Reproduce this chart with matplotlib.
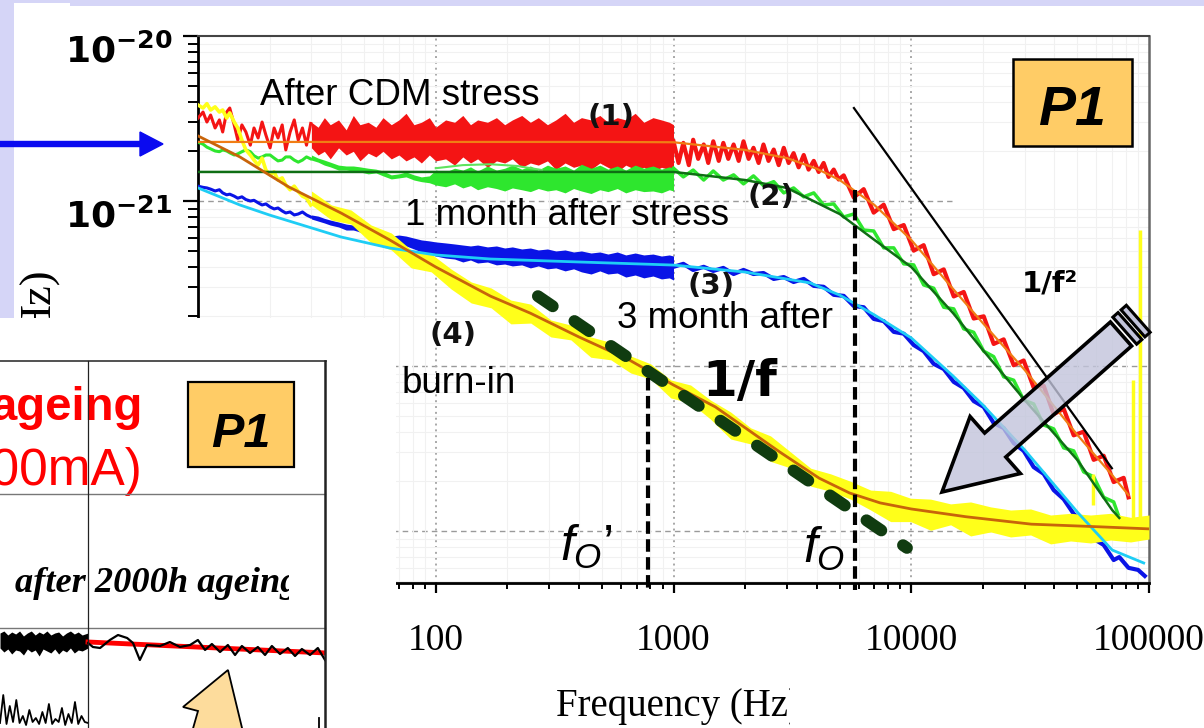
import numpy as np
import matplotlib
matplotlib.use("Agg")
import matplotlib.pyplot as plt
from matplotlib.patches import Rectangle, Polygon, FancyArrow
from matplotlib.lines import Line2D
from matplotlib.transforms import Affine2D, Bbox, TransformedBbox, ScaledTranslation
from matplotlib.ticker import NullFormatter

plt.rcParams["font.family"] = ["Liberation Sans", "DejaVu Sans"]
plt.rcParams["mathtext.fontset"] = "custom"
plt.rcParams["mathtext.rm"] = "DejaVu Sans"
plt.rcParams["mathtext.bf"] = "DejaVu Sans:bold"
plt.rcParams["mathtext.it"] = "Liberation Sans:italic"

W, H = 1204, 728
U = 1e-21  # PSD values below are in units of 1e-21 A^2/Hz

# ---------------- data ----------------
f_low = [10, 10.5, 10.9, 11.3, 11.8, 12.3, 12.7, 13.2, 13.6, 14.2, 14.7, 15.3, 15.9, 16.6,
         17.2, 17.9, 18.6, 19.3, 20.1, 20.9, 21.7, 22.6, 23.4, 24.4, 25.4, 26.4, 27.5, 28.6, 29.8]
red_low = [3.18, 3.46, 3.01, 3.32, 2.77, 3.10, 2.62, 3.46, 3.66, 2.89, 2.34, 2.89, 2.62, 2.18,
           2.77, 2.41, 3.01, 2.51, 2.10, 2.77, 2.41, 2.89, 2.04, 2.62, 3.10, 2.34, 2.77, 2.18, 2.95]
green_low = [2.27, 2.21, 2.12, 2.07, 2.01, 1.99, 2.04, 2.01, 1.96, 1.90, 1.93, 1.99, 2.04, 1.99,
             1.88, 1.82, 1.85, 1.90, 1.90, 1.82, 1.75, 1.77, 1.85, 1.85, 1.77, 1.72, 1.77, 1.85, 1.80]
blue_low = [1.23, 1.21, 1.20, 1.18, 1.15, 1.17, 1.12, 1.09, 1.10, 1.07, 1.04, 1.06, 1.02, 1.00,
            1.01, 0.975, 0.946, 0.96, 0.92, 0.895, 0.907, 0.87, 0.846, 0.858, 0.823, 0.834, 0.858, 0.823, 0.80]
yellow_low = [3.82, 3.66, 3.89, 3.56, 3.72, 3.46, 3.56, 3.18, 3.42, 3.01, 2.77, 2.34, 2.04, 1.90,
              1.77, 1.65, 1.82, 1.54, 1.44, 1.50, 1.34, 1.38, 1.25, 1.17, 1.23, 1.14, 1.07, 1.04, 0.946]

f_band = [30, 32, 34, 36, 39, 42, 45, 48, 52, 56, 60, 65, 70, 75, 81, 87, 94, 100, 110, 120,
          130, 140, 150, 165, 180, 195, 210, 230, 250, 270, 295, 320, 350, 380, 410, 450, 490,
          530, 580, 630, 690, 750, 820, 890, 960, 1000]
red_band_hi = [3.0, 2.8, 3.2, 2.9, 3.1, 2.7, 3.3, 2.9, 3.0, 2.8, 3.2, 2.9, 3.1, 3.4, 2.9, 3.0,
               3.2, 2.8, 3.1, 3.0, 3.3, 2.9, 3.1, 3.0, 3.2, 2.9, 3.1, 3.3, 3.0, 3.2, 2.9, 3.1,
               3.4, 3.0, 3.2, 3.1, 3.3, 3.0, 3.2, 3.1, 3.4, 3.0, 3.2, 3.1, 3.0, 2.9]
red_band_lo = [2.1, 1.9, 2.0, 1.8, 2.1, 1.9, 2.0, 1.75, 1.95, 1.85, 2.0, 1.8, 1.9, 1.75, 1.85, 1.7,
               1.9, 1.75, 1.8, 1.65, 1.85, 1.7, 1.8, 1.6, 1.75, 1.7, 1.8, 1.6, 1.7, 1.65, 1.75,
               1.55, 1.7, 1.6, 1.65, 1.55, 1.7, 1.6, 1.5, 1.65, 1.55, 1.6, 1.5, 1.6, 1.55, 1.6]
green_band_hi = [1.90, 1.82, 1.77, 1.72, 1.65, 1.63, 1.63, 1.61, 1.58, 1.56, 1.52, 1.44, 1.46,
                 1.50, 1.44, 1.40, 1.42, 1.54, 1.50, 1.58, 1.54, 1.61, 1.52, 1.63, 1.54, 1.58,
                 1.65, 1.56, 1.63, 1.54, 1.65, 1.58, 1.63, 1.54, 1.67, 1.58, 1.65, 1.56, 1.63,
                 1.54, 1.65, 1.58, 1.63, 1.56, 1.61, 1.58]
green_band_lo = [1.77, 1.72, 1.65, 1.61, 1.54, 1.54, 1.52, 1.50, 1.46, 1.48, 1.42, 1.36, 1.38,
                 1.40, 1.34, 1.31, 1.29, 1.25, 1.22, 1.27, 1.20, 1.24, 1.17, 1.22, 1.19, 1.15,
                 1.20, 1.17, 1.14, 1.19, 1.15, 1.17, 1.12, 1.19, 1.15, 1.11, 1.17, 1.14, 1.19,
                 1.12, 1.17, 1.14, 1.15, 1.12, 1.17, 1.15]
blue_band_hi = [0.823, 0.81, 0.785, 0.767, 0.746, 0.725, 0.715, 0.705, 0.686, 0.667, 0.649, 0.613,
                0.622, 0.613, 0.596, 0.581, 0.573, 0.565, 0.557, 0.549, 0.541, 0.534, 0.541, 0.527,
                0.534, 0.519, 0.527, 0.512, 0.519, 0.505, 0.512, 0.498, 0.505, 0.491, 0.498, 0.484,
                0.491, 0.477, 0.491, 0.471, 0.484, 0.471, 0.477, 0.464, 0.471, 0.464]
blue_band_lo = [0.778, 0.756, 0.736, 0.715, 0.696, 0.667, 0.667, 0.649, 0.622, 0.605, 0.589, 0.557,
                0.549, 0.534, 0.512, 0.491, 0.477, 0.464, 0.451, 0.445, 0.427, 0.439, 0.421, 0.427,
                0.410, 0.415, 0.404, 0.410, 0.393, 0.404, 0.388, 0.393, 0.377, 0.388, 0.372, 0.361,
                0.377, 0.361, 0.366, 0.346, 0.356, 0.342, 0.351, 0.337, 0.342, 0.332]

f_red_hi = [1000, 1050, 1100, 1160, 1210, 1270, 1340, 1400, 1470, 1550, 1620, 1700, 1790, 1880,
            1970, 2070, 2170, 2280, 2390, 2510, 2640, 2770, 2910, 3050, 3200, 3360, 3530, 3700,
            3890, 4080, 4280, 4490, 4720, 4950,
            5200, 5730, 6310, 6950, 7660, 8440, 9300, 10240, 11280, 12430, 13700, 15090, 16620,
            18310, 20170, 22220, 24480, 26970, 29710, 32730, 36060, 39730, 43770, 48220, 53120,
            58520, 64470, 71030, 78250, 82000]
red_hi = [2.3, 1.7, 2.25, 1.65, 2.35, 1.8, 2.2, 1.7, 2.3, 1.75, 2.25, 1.8, 2.2, 1.75, 2.3, 1.8,
          2.1, 1.7, 2.2, 1.75, 2.05, 1.65, 2.1, 1.7, 1.95, 1.6, 1.9, 1.55, 1.75, 1.5, 1.7, 1.4,
          1.55, 1.35,
          1.43, 1.05, 1.18, 0.85, 0.95, 0.675, 0.715, 0.50, 0.54, 0.36, 0.385, 0.264, 0.281,
          0.194, 0.20, 0.136, 0.145, 0.101, 0.108, 0.074, 0.076, 0.051, 0.055, 0.038, 0.040,
          0.027, 0.0286, 0.0198, 0.021, 0.016]

f_hi = [1000, 1100, 1210, 1340, 1470, 1620, 1790, 1970, 2170, 2390, 2640, 2910, 3200, 3530,
        3890, 4280, 4720, 5200, 5730, 6310, 6950, 7660, 8440, 9300, 10240, 11280, 12430, 13700,
        15090, 16620, 18310, 20170, 22220, 24480, 26970, 29710, 32730, 36060, 39730, 43770,
        48220, 53120, 58520, 64470, 71030, 75000]
green_hi = [1.58, 1.40, 1.54, 1.34, 1.52, 1.34, 1.44, 1.27, 1.42, 1.24, 1.31, 1.12, 1.20, 1.06,
            1.12, 0.946, 0.96, 0.80, 0.834, 0.667, 0.658, 0.52, 0.52, 0.416, 0.410, 0.310, 0.296,
            0.227, 0.222, 0.168, 0.160, 0.123, 0.114, 0.086, 0.082, 0.0622, 0.0589, 0.0439,
            0.0416, 0.0319, 0.0306, 0.0228, 0.0213, 0.0160, 0.0150, 0.0120]
f_blue_hi = f_hi + [82000, 90000, 96000]
blue_hi = [0.399, 0.416, 0.382, 0.399, 0.377, 0.393, 0.361, 0.382, 0.361, 0.366, 0.337, 0.346,
           0.323, 0.337, 0.306, 0.302, 0.270, 0.266, 0.231, 0.227, 0.193, 0.187, 0.161, 0.157,
           0.134, 0.123, 0.103, 0.0959, 0.0801, 0.0736, 0.0613, 0.0565, 0.0451, 0.0421, 0.0341,
           0.0306, 0.0244, 0.0222, 0.0177, 0.0156, 0.0127, 0.0112, 0.00897, 0.00823, 0.00667,
           0.00695, 0.00598, 0.00581, 0.00534]

f_ybd = [30, 36.4, 44, 53.5, 65, 78.9, 95.7, 116, 141, 171, 207, 251, 305, 370, 449, 545, 661,
         802, 974, 1180, 1430, 1740, 2110, 2560, 3110, 3780, 4580, 5560, 6750, 8190, 9940,
         12070, 14640, 17770, 21570, 26180, 31770, 38560, 46800, 56800, 68940, 83680, 100000]
yellow_hi = [1.15, 0.946, 0.882, 0.715, 0.64, 0.505, 0.478, 0.387, 0.323, 0.297, 0.251, 0.237,
             0.190, 0.177, 0.150, 0.139, 0.115, 0.103, 0.0823, 0.0767, 0.0622, 0.0526, 0.0422,
             0.0377, 0.0301, 0.0240, 0.0222, 0.0200, 0.0177, 0.0174, 0.0158, 0.0156, 0.0146,
             0.0150, 0.0140, 0.0134, 0.0136, 0.0125, 0.0128, 0.0125, 0.0128, 0.0121, 0.0125]
yellow_lo = [0.946, 0.767, 0.725, 0.557, 0.505, 0.393, 0.372, 0.293, 0.241, 0.225, 0.180, 0.182,
             0.150, 0.144, 0.113, 0.109, 0.0907, 0.0834, 0.0640, 0.0597, 0.0477, 0.0361, 0.0337,
             0.0264, 0.0241, 0.0187, 0.0174, 0.0156, 0.0134, 0.0114, 0.0114, 0.0101, 0.0109,
             0.00933, 0.00987, 0.00920, 0.00946, 0.00835, 0.00870, 0.00846, 0.00882, 0.00858, 0.00894]
yspike_f = [91600, 85700, 58000]
yspike_top = [0.667, 0.0823, 0.022]
yspike_bot = [0.0117, 0.0117, 0.0144]

green_alt_f = [100, 130, 170, 220, 280]
green_alt = [1.58, 1.65, 1.67, 1.63, 1.54]

# fitted curves
red_fit_f = [10, 20, 50, 100, 200, 500, 1000, 2000, 3000, 4000, 5000, 7000, 10000, 15000,
             20000, 30000, 50000, 70000, 82000]
red_fit = [2.28, 2.28, 2.28, 2.28, 2.28, 2.28, 2.27, 2.04, 1.82, 1.57, 1.34, 0.946, 0.581,
           0.293, 0.182, 0.0946, 0.0382, 0.0218, 0.0165]
green_fit_f = [10, 100, 1000, 2000, 3000, 5000, 7000, 10000, 15000, 20000, 30000, 50000, 70000, 75000]
green_fit = [1.50, 1.50, 1.50, 1.34, 1.20, 0.834, 0.581, 0.398, 0.209, 0.125, 0.0622, 0.0269,
             0.0134, 0.0120]
cyan_fit_f = [10, 15, 20, 40, 64, 100, 170, 400, 1000, 2000, 3750, 5000, 7000, 10000, 15000,
              20000, 30000, 50000, 70000, 95000]
cyan_fit = [1.20, 0.946, 0.822, 0.605, 0.519, 0.471, 0.445, 0.427, 0.409, 0.371, 0.319, 0.269,
            0.204, 0.148, 0.0869, 0.0581, 0.0310, 0.0130, 0.00767, 0.00640]
brown_fit_f = [10, 15, 24, 40, 64, 100, 170, 250, 400, 650, 1000, 1500, 2800, 4100, 5500, 7400,
               10000, 17000, 32000, 62000, 100000]
brown_fit = [2.48, 1.85, 1.22, 0.845, 0.581, 0.398, 0.265, 0.209, 0.150, 0.109, 0.0767, 0.0565,
             0.0301, 0.0209, 0.0170, 0.0148, 0.0136, 0.0122, 0.0110, 0.0106, 0.0103]

# guide lines
onef_f = [269, 9590]
onef_s = [0.265, 0.0079]
onef2_f = [5740, 69800]
onef2_s = [3.66, 0.024]
fo_prime, fo = 782, 5800
fo_prime_top, fo_top, fo_bot = 0.0845, 1.17, 0.00438

# inset (bottom-left, normalised 0..1 coordinates of its last row)
ins_band_x = [0, 0.012, 0.024, 0.036, 0.048, 0.06, 0.072, 0.084, 0.096, 0.108, 0.12, 0.132,
              0.144, 0.156, 0.168, 0.18, 0.192, 0.204, 0.216, 0.228, 0.24, 0.252, 0.27]
ins_band_hi = [0.95, 0.97, 0.93, 0.96, 0.94, 0.97, 0.92, 0.95, 0.97, 0.93, 0.96, 0.94, 0.97,
               0.93, 0.95, 0.96, 0.92, 0.95, 0.97, 0.94, 0.96, 0.93, 0.95]
ins_band_lo = [0.80, 0.76, 0.79, 0.74, 0.78, 0.77, 0.73, 0.79, 0.76, 0.78, 0.72, 0.79, 0.77,
               0.75, 0.79, 0.74, 0.78, 0.76, 0.80, 0.75, 0.78, 0.77, 0.80]
ins_red_x = [0.27, 1.0]
ins_red_y = [0.86, 0.75]
ins_line_x = [0.27, 0.285, 0.307, 0.337, 0.362, 0.39, 0.408, 0.429, 0.451, 0.491, 0.521, 0.552,
              0.583, 0.607, 0.629, 0.650, 0.675, 0.699, 0.721, 0.742, 0.767, 0.791, 0.813,
              0.834, 0.859, 0.883, 0.905, 0.926, 0.951, 0.975, 0.997]
ins_line_y = [0.85, 0.81, 0.80, 0.88, 0.93, 0.90, 0.85, 0.68, 0.83, 0.82, 0.86, 0.81, 0.83,
              0.88, 0.78, 0.84, 0.76, 0.83, 0.73, 0.82, 0.75, 0.81, 0.73, 0.82, 0.74, 0.80,
              0.72, 0.79, 0.73, 0.80, 0.68]
ins_spk_x = [0, 0.01, 0.02, 0.03, 0.04, 0.05, 0.06, 0.07, 0.08, 0.09, 0.10, 0.11, 0.12, 0.13,
             0.14, 0.15, 0.16, 0.17, 0.18, 0.19, 0.20, 0.21, 0.22, 0.23, 0.24, 0.25, 0.26, 0.27]
ins_spk_y = [0.05, 0.33, 0.04, 0.22, 0.06, 0.28, 0.05, 0.12, 0.03, 0.18, 0.06, 0.10, 0.04, 0.16,
             0.05, 0.24, 0.04, 0.09, 0.06, 0.20, 0.03, 0.14, 0.05, 0.26, 0.04, 0.12, 0.06, 0.05]

RED = "#f41414"
GREEN = "#2ee62e"
BLUE = "#0a14e6"
YELLOW = "#ffff1a"
C_RED_FIT = "#f07d14"
C_GREEN_FIT = "#0f6e14"
C_CYAN_FIT = "#1ecdf5"
C_BROWN_FIT = "#c8640a"
C_ONEF = "#103c10"
BOX = "#ffcc66"
LAV = "#d5d5f7"


def s(v):
    return np.asarray(v) * U


fig = plt.figure(figsize=(W / 100, H / 100), dpi=100)
# pixel coordinates, origin top-left
PX = Affine2D().scale(0.01, -0.01).translate(0, H / 100) + fig.dpi_scale_trans


def T(x, y, txt, **kw):
    return fig.text(x, y, txt, transform=PX, **kw)


def clip_px(artist, x0, y0, x1, y1):
    bb = Bbox.from_extents(x0 / W, 1 - y1 / H, x1 / W, 1 - y0 / H)
    artist.set_clip_box(TransformedBbox(bb, fig.transFigure))
    artist.set_clip_on(True)


# ---------------- main spectrum plot ----------------
ax = fig.add_axes([198 / W, 1 - 583 / H, 951 / W, 547 / H])
ax.set_xscale("log")
ax.set_yscale("log")
ax.set_xlim(10, 1e5)
ax.set_ylim(4.84e-24, 1e-20)

ax.grid(which="minor", color="#f1f1f1", lw=0.8)
for yv, xm in [(1e-21, 0.793), (1e-22, 1.0), (1e-23, 1.0)]:
    ax.axhline(yv, xmax=xm, color="#9a9a9a", lw=1.0, dashes=(4, 3), zorder=1)
for xv in [100, 1000, 10000]:
    ax.axvline(xv, color="#a8a8a8", lw=1.4, dashes=(1, 2), zorder=1)

# noisy measured spectra
ax.plot(f_low, s(red_low), color=RED, lw=2.2, zorder=3)
ax.fill_between(f_band, s(red_band_lo), s(red_band_hi), color=RED, lw=0, zorder=3)
ax.plot(f_red_hi, s(red_hi), color=RED, lw=3, zorder=3)

ax.plot(f_low, s(green_low), color=GREEN, lw=2.2, zorder=3)
ax.fill_between(f_band, s(green_band_lo), s(green_band_hi), color=GREEN, lw=0, zorder=3)
ax.plot(f_hi, s(green_hi), color=GREEN, lw=2.5, zorder=3)
ax.plot(green_alt_f, s(green_alt), color="#5fe35f", lw=1.5, zorder=3)

ax.plot(f_low, s(blue_low), color=BLUE, lw=2.2, zorder=3)
ax.fill_between(f_band, s(blue_band_lo), s(blue_band_hi), color=BLUE, lw=0, zorder=3)
ax.plot(f_blue_hi, s(blue_hi), color=BLUE, lw=3, zorder=3)

ax.plot(f_low, s(yellow_low), color=YELLOW, lw=2.6, zorder=3.5)
ax.fill_between(f_ybd, s(yellow_lo), s(yellow_hi), color=YELLOW, lw=0, zorder=3.5)
ax.vlines(yspike_f, s(yspike_bot), s(yspike_top), color=YELLOW, lw=2.5, zorder=3.5)

# fits
ax.plot(red_fit_f, s(red_fit), color=C_RED_FIT, lw=1.6, zorder=4)
ax.plot(green_fit_f, s(green_fit), color=C_GREEN_FIT, lw=1.8, zorder=4)
ax.plot(cyan_fit_f, s(cyan_fit), color=C_CYAN_FIT, lw=2.0, zorder=4)
ax.plot(brown_fit_f, s(brown_fit), color=C_BROWN_FIT, lw=2.0, zorder=4)

# guide lines
ax.plot(onef_f, s(onef_s), color=C_ONEF, lw=8.6, dashes=(1.5, 2.2),
        dash_capstyle="round", zorder=6)
ax.plot(onef2_f, s(onef2_s), color="black", lw=1.6, zorder=6)
ax.plot([fo_prime, fo_prime], s([fo_prime_top, fo_bot]), color="black", lw=3,
        dashes=(3, 1.3), clip_on=False, zorder=6)
ax.plot([fo, fo], s([fo_top, fo_bot]), color="black", lw=3,
        dashes=(3, 1.3), clip_on=False, zorder=6)

# axes styling (lower decade labels sit under the white inset area, so they stay empty)
ax.set_yticks([1e-23, 1e-22, 1e-21, 1e-20])
ax.set_yticklabels(["", "", r"$\mathbf{10^{-21}}$", r"$\mathbf{10^{-20}}$"])
ax.yaxis.set_minor_formatter(NullFormatter())
ax.set_xticks([10, 100, 1000, 10000, 100000])
ax.set_xticklabels(["", "100", "1000", "10000", "100000"], family="Liberation Serif")
ax.xaxis.set_minor_formatter(NullFormatter())
ax.tick_params(axis="y", which="major", direction="out", length=10.5, width=1.6, pad=8, labelsize=26)
ax.tick_params(axis="y", which="minor", direction="out", length=7, width=1.4)
ax.tick_params(axis="x", which="major", direction="out", length=7, width=1.6, pad=22, labelsize=27)
ax.tick_params(axis="x", which="minor", direction="out", length=4.5, width=1.4)
for lbl in ax.get_yticklabels():
    lbl.set_va("top")
    lbl.set_transform(lbl.get_transform() + ScaledTranslation(0, 1 / 72, fig.dpi_scale_trans))
ax.spines["left"].set_linewidth(2)
ax.spines["bottom"].set_linewidth(2)
ax.spines["top"].set_linewidth(1.5)
ax.spines["top"].set_color("#444444")
ax.spines["right"].set_linewidth(1.8)
ax.spines["right"].set_color("#666666")

# annotations on the main plot
T(260, 105, "After CDM stress", fontsize=26.5)
T(405, 225, "1 month after stress", fontsize=26.5)
T(617, 328, "3 month after", fontsize=26.5)
T(402, 393, "burn-in", fontsize=26.5)
for txt, (x, y) in {"(1)": (611, 125), "(2)": (771, 205), "(3)": (711, 294), "(4)": (453, 343)}.items():
    T(x, y, txt, fontsize=21, family="DejaVu Sans", weight="bold", ha="center", color="#111111")
T(740, 396, "1/f", fontsize=36, family="DejaVu Sans", weight="bold", ha="center")
T(1050, 291, "1/f²", fontsize=21, family="DejaVu Sans", weight="bold", ha="center")
T(560, 561, r"$f_O$’", fontsize=36)
T(803, 563, r"$f_O$", fontsize=36)

fig.add_artist(Rectangle((1013, 59), 119, 87, transform=PX, facecolor=BOX,
                         edgecolor="black", lw=1.8, zorder=4))
T(1072, 125, "P1", fontsize=40, weight="bold", style="italic", ha="center", zorder=5)

# only the end of the y label is left uncovered
ylab = T(40, 268, "Hz)", rotation=90, ha="center", va="top",
         family="Liberation Serif", fontsize=32)
clip_px(ylab, 0, 0, W, 318)
xlab = T(556, 716, "Frequency (Hz)", family="Liberation Serif", fontsize=28)
clip_px(xlab, 0, 0, 790, H)

# big grey arrow
tip = np.array([942.0, 492.0])
tail = np.array([1121.0, 334.0])
d = tip - tail
u = d / np.hypot(*d)
n = np.array([-u[1], u[0]])
fig.add_artist(FancyArrow(tail[0], tail[1], d[0], d[1], width=32, head_width=76,
                          head_length=71, length_includes_head=True, transform=PX,
                          facecolor=(0.76, 0.77, 0.86, 0.8), edgecolor="black",
                          lw=2.6, zorder=5))
for a0, a1 in [(5, 12), (16, 23)]:
    c0 = tail - u * a0
    c1 = tail - u * a1
    fig.add_artist(Polygon([c0 + n * 18, c1 + n * 18, c1 - n * 18, c0 - n * 18],
                           closed=True, transform=PX, facecolor=(0.76, 0.77, 0.86),
                           edgecolor="black", lw=2.2, zorder=5))

# ---------------- slide background and overlays ----------------
fig.add_artist(Rectangle((0, 0), W, 6, transform=PX, facecolor=LAV, edgecolor="none", zorder=0.5))
fig.add_artist(Rectangle((0, 0), 14, 318, transform=PX, facecolor=LAV, edgecolor="none", zorder=0.5))
fig.add_artist(Rectangle((14, 3), 56, 3, transform=PX, facecolor="white", edgecolor="none", zorder=0.6))
fig.add_artist(FancyArrow(0, 144, 163, 0, width=5, head_width=24, head_length=23,
                          length_includes_head=True, color="#0a0af0", transform=PX, zorder=4))

# white area holding the inset table
fig.add_artist(Rectangle((0, 318), 396, H - 318, transform=PX, facecolor="white",
                         edgecolor="none", zorder=1))

T(143, 420, "ageing", ha="right", color="#ff0000", weight="bold", fontsize=34, zorder=2.5)
T(143, 485, "(100mA)", ha="right", color="#ff0000", fontsize=37, zorder=2.5)
t_age = T(15, 592, "after 2000h ageing", family="Liberation Serif", style="italic",
          weight="bold", fontsize=26.2, zorder=2.5)
clip_px(t_age, 0, 0, 289, H)

for (x0, y0, x1, y1, c, lw) in [(0, 361, 326, 361, "#333333", 1.2),
                                (0, 494, 325, 494, "#777777", 1.0),
                                (0, 628, 325, 628, "#777777", 1.0),
                                (88, 361, 88, H, "#222222", 0.9),
                                (325, 361, 325, H, "#222222", 1.8)]:
    fig.add_artist(Line2D([x0, x1], [y0, y1], transform=PX, color=c, lw=lw, zorder=2.6))

fig.add_artist(Rectangle((188, 382), 106, 85, transform=PX, facecolor=BOX,
                         edgecolor="black", lw=1.6, zorder=2.7))
T(241, 447, "P1", fontsize=35, weight="bold", style="italic", ha="center", zorder=2.8)

axt = fig.add_axes([0, 0, 326 / W, 100 / H], zorder=2.4)
axt.set_xlim(0, 1)
axt.set_ylim(0, 1)
axt.axis("off")
axt.fill_between(ins_band_x, ins_band_lo, ins_band_hi, color="black", lw=0)
axt.plot(ins_red_x, ins_red_y, color="#ff0000", lw=3.5)
axt.plot(ins_line_x, ins_line_y, color="black", lw=1.6)
axt.plot(ins_spk_x, ins_spk_y, color="black", lw=1.3)
axt.plot([0.98, 0.98], [0.0, 0.10], color="black", lw=1.3)

fig.add_artist(Polygon([(228, 670), (183, 707), (198, 711), (192, 732), (243, 732)],
                       closed=True, transform=PX, facecolor="#fddc9c",
                       edgecolor="black", lw=1.3, zorder=2.8))

fig.savefig("out.png", dpi=100)
